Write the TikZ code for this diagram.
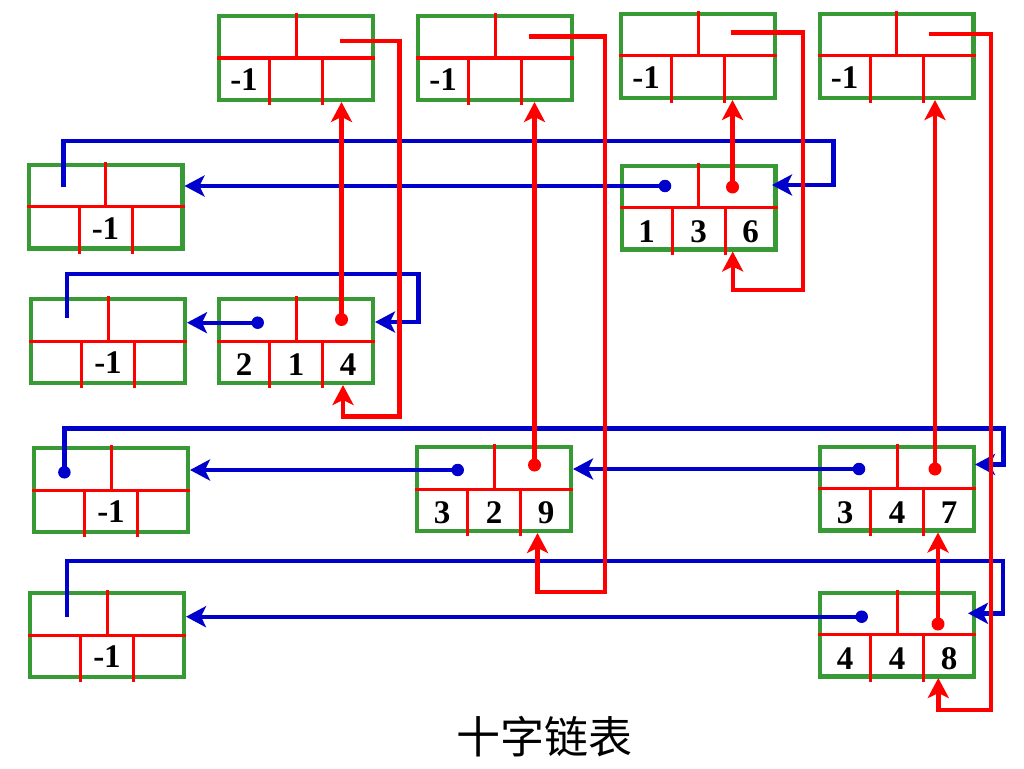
\documentclass[tikz,border=0pt]{standalone}
\usepackage{fontspec}
\setmainfont{Liberation Serif}
\newfontfamily\cjk{Noto Sans CJK SC}
\usetikzlibrary{arrows.meta,calc}
\definecolor{bxgreen}{RGB}{56,154,52}
\definecolor{lnred}{RGB}{255,0,0}
\definecolor{lnblue}{RGB}{0,0,204}
\tikzset{
 cell/.style={draw=bxgreen, line width=4.3pt, minimum width=153.7pt, minimum height=83.7pt, inner sep=0pt, fill=white},
 div/.style={draw=lnred, line width=3pt},
 lbl/.style={font=\bfseries\fontsize{33}{36}\selectfont, inner sep=0pt},
 redlink/.style={draw=lnred, line width=4.4pt},
 bluelink/.style={draw=lnblue, line width=4.4pt},
 tip/.style={-{Stealth[length=20pt,width=21pt,inset=5pt]}},
 rdot/.style={fill=lnred, circle, inner sep=0pt, minimum size=13pt},
 bdot/.style={fill=lnblue, circle, inner sep=0pt, minimum size=12.5pt},
}
\newcommand\lnkbox[3]{%
 \node[cell] (#1) at (#2,#3) {};
 \draw[div] (#1.west) -- (#1.east);
 \draw[div] ($(#1.north)+(0,-1)$) -- (#1.center);
 \draw[div] ($(#1.center)+(-26.5,0)$) -- ($(#1.south)+(-26.5,3)$);
 \draw[div] ($(#1.center)+(26.5,0)$) -- ($(#1.south)+(26.5,3)$);
}
\newcommand\mkcol[3]{\lnkbox{#1}{#2}{#3}\node[lbl] (#1-v) at ($(#1)+(-52,22)$) {-1};}
\newcommand\mkrow[3]{\lnkbox{#1}{#2}{#3}\node[lbl] (#1-v) at ($(#1)+(0,22)$) {-1};}
\newcommand\mkelem[6]{\lnkbox{#1}{#2}{#3}%
 \node[lbl] (#1-a) at ($(#1)+(-52,24)$) {#4};%
 \node[lbl] (#1-b) at ($(#1)+(0,24)$) {#5};%
 \node[lbl] (#1-c) at ($(#1)+(52,24)$) {#6};}
\begin{document}
\begin{tikzpicture}[x=1pt,y=-1pt]
\fill[white] (0,0) rectangle (1024,768);
\useasboundingbox (0,0) rectangle (1024,768);
% boxes
\mkcol{C1}{296}{58}
\mkcol{C2}{495}{58}
\mkcol{C3}{698}{56}
\mkcol{C4}{896.5}{56}
\mkrow{R1}{105.5}{206.7}
\mkrow{R2}{108}{341}
\mkrow{R3}{111}{490}
\mkrow{R4}{107}{635}
\mkelem{E136}{698.7}{207.5}{1}{3}{6}
\mkelem{E214}{296}{341}{2}{1}{4}
\mkelem{E329}{494}{489}{3}{2}{9}
\mkelem{E347}{897}{488.5}{3}{4}{7}
\mkelem{E448}{897}{634.7}{4}{4}{8}
% pointer origins
\coordinate (b136) at (665,186);
\coordinate (b214) at (257.7,322.7);
\coordinate (b329) at (457.7,470);
\coordinate (b347) at (859,469);
\coordinate (b448) at (861.7,616.7);
\coordinate (r214) at (341.5,319.5);
\coordinate (r136) at (732.5,187);
\coordinate (r329) at (534.5,465);
\coordinate (r347) at (935,469);
\coordinate (r448) at (938,624);
% row head loops
\coordinate (s1) at (63.3,187);   \coordinate (k1) at (833.3,141);   \coordinate (t1) at (772,185);
\coordinate (s2) at (67,318);     \coordinate (k2) at (418.3,274);   \coordinate (t2) at (375,322);
\coordinate (s3) at (64.4,472.3); \coordinate (k3) at (1003.3,428.3);\coordinate (t3) at (975,464.5);
\coordinate (s4) at (67,616.7);   \coordinate (k4) at (1002.7,560.7);\coordinate (t4) at (968,613.3);
% column head loops
\coordinate (q1s) at (340,41);    \coordinate (q1k) at (399.5,416.5); \coordinate (q1t) at (343,385);
\coordinate (q2s) at (529,36.7);  \coordinate (q2k) at (605,591.7);   \coordinate (q2t) at (537.5,533);
\coordinate (q3s) at (730.7,32.7);\coordinate (q3k) at (802.7,290);   \coordinate (q3t) at (732.7,251.5);
\coordinate (q4s) at (929,34);    \coordinate (q4k) at (990.7,710);   \coordinate (q4t) at (938.3,678);
% blue links
\draw[bluelink,tip] (s1) |- (k1) |- (t1);
\draw[bluelink,tip] (s2) |- (k2) |- (t2);
\draw[bluelink,tip] (s3) |- (k3) |- (t3);
\draw[bluelink,tip] (s4) |- (k4) |- (t4);
\draw[bluelink,tip] (b136) -- (b136 -| R1.east);
\draw[bluelink,tip] (b214) -- (b214 -| R2.east);
\draw[bluelink,tip] (b329) -- (b329 -| R3.east);
\draw[bluelink,tip] (b347) -- (b347 -| E329.east);
\draw[bluelink,tip] (b448) -- (b448 -| R4.east);
% red links
\draw[redlink,tip] (q1s) -| (q1k) -| (q1t);
\draw[redlink,tip] (q2s) -| (q2k) -| (q2t);
\draw[redlink,tip] (q3s) -| (q3k) -| (q3t);
\draw[redlink,tip] (q4s) -| (q4k) -| (q4t);
\draw[redlink,tip] (r214) -- (r214 |- C1.south);
\draw[redlink,tip] (r329) -- (r329 |- C2.south);
\draw[redlink,tip] (r136) -- (r136 |- C3.south);
\draw[redlink,tip] (r347) -- (r347 |- C4.south);
\draw[redlink,tip] (r448) -- (r448 |- E347.south);
% dots
\node[bdot] (d136) at (b136) {};
\node[bdot] (d214) at (b214) {};
\node[bdot] (d329) at (b329) {};
\node[bdot] (d347) at (b347) {};
\node[bdot] (d448) at (b448) {};
\node[bdot] (dR3) at (s3) {};
\node[rdot] (e214) at (r214) {};
\node[rdot] (e136) at (r136) {};
\node[rdot] (e329) at (r329) {};
\node[rdot] (e347) at (r347) {};
\node[rdot] (e448) at (r448) {};
% title
\node[font=\cjk\fontsize{44}{48}\selectfont, inner sep=0pt] (title) at (544,737) {十字链表};
\end{tikzpicture}
\end{document}
